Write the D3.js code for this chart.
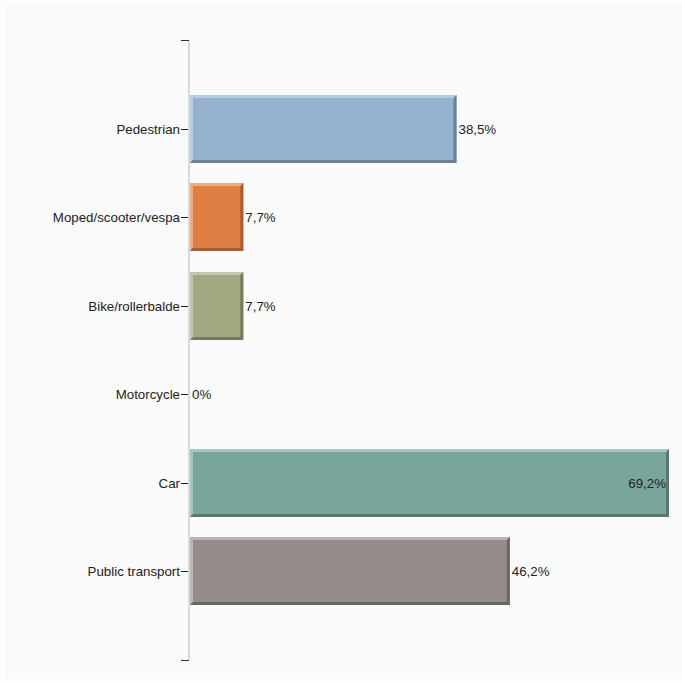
<!DOCTYPE html>
<html><head><meta charset="utf-8">
<script src="https://cdn.jsdelivr.net/npm/d3@7"></script>
<style>body{margin:0;background:#fdfdfd}svg{display:block}</style>
</head><body>
<script>
const categories = ["Pedestrian","Moped/scooter/vespa","Bike/rollerbalde","Motorcycle","Car","Public transport"];
const values = [38.5, 7.7, 7.7, 0, 69.2, 46.2];
const valueLabels = ["38,5%","7,7%","7,7%","0%","69,2%","46,2%"];
const colors = ["#94b2cf","#e07f44","#a3a882","#b0a0c0","#79a69b","#958b8b"];

const W = 682, H = 683;
const FONT = "Liberation Sans, Arial, sans-serif", FS = 13.3;
const svg = d3.select("body").append("svg").attr("width", W).attr("height", H);
svg.append("rect").attr("x",5).attr("y",4).attr("width",W-5).attr("height",H-8).attr("fill","#fafafa");

const x0 = 190;
const x = d3.scaleLinear().domain([0, 69.2]).range([x0, 669]);
const y = d3.scalePoint().domain(categories).range([40, 660]).padding(1);
const bh = 68;

svg.append("line").attr("x1",189).attr("x2",189).attr("y1",40).attr("y2",660)
  .attr("stroke","#d9d9d9").attr("stroke-width",2);
[40,660].forEach(v=>svg.append("line").attr("x1",181).attr("x2",189).attr("y1",v+0.5).attr("y2",v+0.5)
  .attr("stroke","#333").attr("stroke-width",1));

const g = svg.append("g");
categories.forEach((c,i)=>{
  const cy = Math.round(y(c));
  g.append("line").attr("x1",181).attr("x2",188).attr("y1",cy+0.5).attr("y2",cy+0.5).attr("stroke","#222");
  g.append("text").attr("x",180).attr("y",cy).attr("dy","0.35em").attr("text-anchor","end")
    .attr("font-family",FONT).attr("font-size",FS).attr("fill","#222").text(c);
  const w = x(values[i]) - x0;
  const top = cy - bh/2;
  if (w > 0) {
    const col = d3.color(colors[i]);
    const light = d3.interpolateRgb(colors[i], "#ffffff")(0.35);
    const dark = col.darker(0.9).formatHex();
    g.append("rect").attr("x",x0).attr("y",top).attr("width",w).attr("height",bh).attr("fill",colors[i]);
    g.append("path").attr("d",`M${x0},${top}H${x0+w}L${x0+w-3},${top+3}H${x0+3}V${top+bh-3}L${x0},${top+bh}Z`).attr("fill",light);
    g.append("path").attr("d",`M${x0+w},${top}V${top+bh}H${x0}L${x0+3},${top+bh-3}H${x0+w-3}V${top+3}Z`).attr("fill",dark);
  }
  const t = g.append("text").attr("y",cy).attr("dy","0.35em")
    .attr("font-family",FONT).attr("font-size",FS).attr("fill","#222").text(valueLabels[i]);
  const tw = t.node().getComputedTextLength();
  if (x0 + w + 2 + tw > W - 8) {
    t.attr("x", x0 + w - 3).attr("text-anchor","end");
  } else {
    t.attr("x", x0 + w + 2);
  }
});
</script>
</body></html>
